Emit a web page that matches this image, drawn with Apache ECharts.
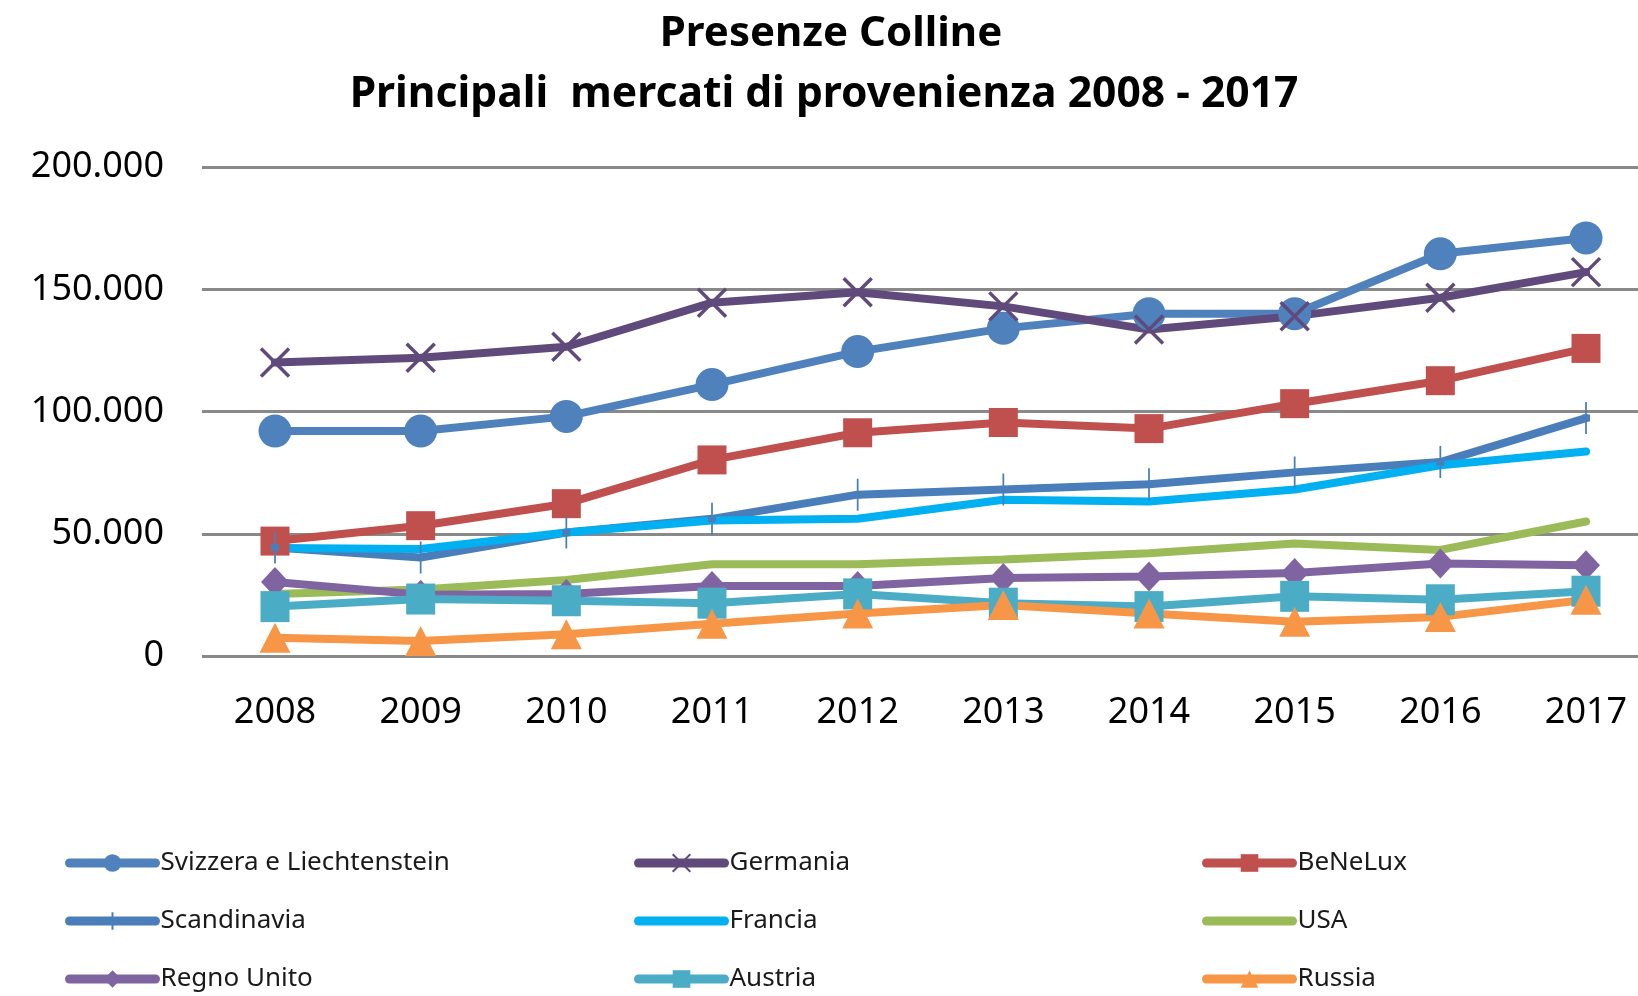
<!DOCTYPE html>
<html>
<head>
<meta charset="utf-8">
<script src="https://cdn.jsdelivr.net/npm/echarts@6/dist/echarts.min.js"></script>
<style>
  html, body { margin: 0; padding: 0; background: #fff; }
  #chart { width: 1638px; height: 996px; }
</style>
</head>
<body>
<div id="chart"></div>
<script>
// anni
const years = ['2008', '2009', '2010', '2011', '2012', '2013', '2014', '2015', '2016', '2017']

// presenze per mercato
const svizzera = [92000, 92000, 98000, 111000, 124500, 134000, 140000, 140000, 164500, 171000]
const germania = [120000, 122000, 126500, 144500, 148800, 143000, 133500, 139000, 146500, 157000]
const benelux = [47000, 53300, 62300, 80200, 91300, 95500, 93000, 103200, 112600, 125800]
const scandinavia = [44400, 40300, 50500, 56100, 66000, 68100, 70200, 75100, 79300, 97300]
const francia = [44200, 43800, 50500, 55400, 56100, 63900, 63200, 68100, 78000, 83600]
const usa = [25400, 27200, 31100, 37500, 37500, 39500, 42000, 46000, 43400, 55000]
const regnoUnito = [30300, 25100, 25400, 28600, 28600, 31900, 32500, 33900, 37800, 37100]
const austria = [20200, 23300, 22600, 21600, 25400, 21600, 20200, 24400, 23000, 26500]
const russia = [7500, 6100, 8900, 13200, 17400, 20900, 17400, 14000, 16000, 23000]

const yTicks = [0, 50000, 100000, 150000, 200000]

const chart = echarts.init(document.getElementById('chart'))

const crossPath = 'path://M0,0 L10,10 M10,0 L0,10'
const plusPath = 'path://M5,0 L5,10 M3,5 L7,5'

// formato italiano: 150.000
const fmt = v => String(v).replace(/\B(?=(\d{3})+(?!\d))/g, '.')

const makeSeries = (name, data, color, symbol, symbolSize, border = 0) => ({
  name,
  type: 'line',
  data,
  symbol,
  symbolSize,
  showSymbol: symbol !== 'none',
  lineStyle: { color, width: 8, cap: 'round' },
  itemStyle: { color, borderColor: color, borderWidth: border },
  emphasis: { disabled: true },
  animation: false
})

const series = [
  makeSeries('Svizzera e Liechtenstein', svizzera, '#4F81BD', 'circle', 33),
  makeSeries('Germania', germania, '#604A7B', crossPath, 28, 3.5),
  makeSeries('BeNeLux', benelux, '#C0504D', 'rect', 29),
  makeSeries('Scandinavia', scandinavia, '#4A7EBB', plusPath, [8, 32], 3.5),
  makeSeries('Francia', francia, '#00B0F0', 'none', 0),
  makeSeries('USA', usa, '#9BBB59', 'none', 0),
  makeSeries('Regno Unito', regnoUnito, '#8064A2', 'diamond', [28, 30]),
  makeSeries('Austria', austria, '#4BACC6', 'rect', [29, 31]),
  makeSeries('Russia', russia, '#F79646', 'triangle', [31, 30])
]

const legendBase = {
  orient: 'vertical',
  top: 850,
  height: 200,
  padding: 0,
  itemWidth: 86,
  itemHeight: 22,
  itemGap: 32,
  lineStyle: { width: 9, cap: 'round' },
  textStyle: { fontFamily: 'Noto Sans', fontSize: 26, lineHeight: 25, color: '#1a1a1a' }
}

// linee senza marcatore nella legenda
const plain = name => ({ name, itemStyle: { opacity: 0 } })

const titleStyle = { fontFamily: 'Noto Sans', fontSize: 42, fontWeight: 'bold', color: '#000' }

const option = {
  backgroundColor: '#fff',
  textStyle: { fontFamily: 'Noto Sans' },
  title: [
    { text: 'Presenze Colline', left: 831, textAlign: 'center', top: 13, padding: 0, textStyle: titleStyle },
    { text: 'Principali  mercati di provenienza 2008 - 2017', left: 824, textAlign: 'center', top: 73, padding: 0, textStyle: Object.assign({}, titleStyle, { fontSize: 42.6 }) }
  ],
  legend: [
    Object.assign({}, legendBase, { left: 65, data: ['Svizzera e Liechtenstein', 'Scandinavia', 'Regno Unito'] }),
    Object.assign({}, legendBase, { left: 634, data: ['Germania', plain('Francia'), 'Austria'] }),
    Object.assign({}, legendBase, { left: 1202, data: ['BeNeLux', plain('USA'), 'Russia'] })
  ],
  grid: [
    { left: 275, right: 52, top: 167, bottom: 340 },
    { left: 202, right: 0, top: 167, bottom: 340 }
  ],
  xAxis: [
    {
      type: 'category',
      data: years,
      boundaryGap: false,
      axisLine: { show: false },
      axisTick: { show: false },
      axisLabel: { margin: 39, fontSize: 36, color: '#000', fontFamily: 'Noto Sans' }
    },
    { gridIndex: 1, type: 'value', show: false, min: 0, max: 1 }
  ],
  yAxis: [
    {
      type: 'value',
      min: yTicks[0],
      max: yTicks[yTicks.length - 1],
      interval: yTicks[1] - yTicks[0],
      show: false,
      splitLine: { show: false }
    },
    {
      gridIndex: 1,
      type: 'value',
      min: yTicks[0],
      max: yTicks[yTicks.length - 1],
      interval: yTicks[1] - yTicks[0],
      axisLine: { show: false },
      axisTick: { show: false },
      splitLine: { lineStyle: { color: '#898989', width: 3 } },
      axisLabel: { margin: 38, fontSize: 36, color: '#000', fontFamily: 'Noto Sans', formatter: fmt }
    }
  ],
  series
}

chart.setOption(option)
</script>
</body>
</html>
